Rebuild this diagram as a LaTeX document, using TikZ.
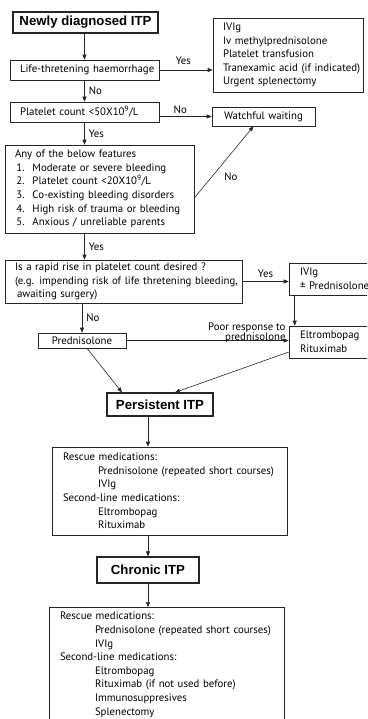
\documentclass[tikz,border=0pt]{standalone}
\usepackage{fontspec}
\setmainfont{PT Sans}
\newfontfamily\titlefont{Liberation Sans}
\usetikzlibrary{arrows.meta,calc}
\tikzset{
  box/.style={draw=black!85, line width=0.6pt, inner ysep=0pt, align=left, anchor=center,
    font=\fontsize{10.8}{13.6}\selectfont},
  tbox/.style={draw=black!85, line width=1.2pt, inner sep=0pt, align=center,
    font=\titlefont\bfseries\fontsize{13.2}{15}\selectfont},
  arr/.style={draw=black!85, line width=0.6pt, -{Triangle[length=5pt,width=4pt]}},
  lbl/.style={font=\fontsize{10.8}{11}\selectfont, inner sep=0pt},
}
\begin{document}
\begin{tikzpicture}[x=1pt,y=-1pt]
\useasboundingbox (0,0) rectangle (367,719);
\clip (0,0) rectangle (367,719);
% title boxes
\node[tbox, minimum width=145pt, minimum height=21pt] (t1) at (85.5,22.5) {Newly diagnosed ITP};
\node[box, inner xsep=10pt, text width=129pt, minimum height=20pt] (b2) at (84.5,70) {\mbox{Life-thretening haemorrhage}};
\node[box, inner xsep=10pt, text width=130pt, minimum height=74pt] (r1) at (288,55)
  {IVIg\\Iv methylprednisolone\\Platelet transfusion\\\mbox{Tranexamic acid (if indicated)}\\Urgent splenectomy};
\node[box, inner xsep=10pt, text width=129pt, minimum height=20pt] (b3) at (84.5,112) {Platelet count <50X10\textsuperscript{9}/L};
\node[box, inner xsep=0pt, text width=103pt, align=center, minimum height=19pt] (w) at (263.5,116.5) {Watchful waiting};
\node[box, inner xsep=10pt, text width=169pt, minimum height=88pt] (b4) at (99.5,189)
  {Any of the below features\\
   \hspace*{1.5pt}\makebox[16pt][l]{1.}\mbox{Moderate or severe bleeding}\\
   \hspace*{1.5pt}\makebox[16pt][l]{2.}\mbox{Platelet count <20X10\textsuperscript{9}/L}\\
   \hspace*{1.5pt}\makebox[16pt][l]{3.}\mbox{Co-existing bleeding disorders}\\
   \hspace*{1.5pt}\makebox[16pt][l]{4.}\mbox{High risk of trauma or bleeding}\\
   \hspace*{1.5pt}\makebox[16pt][l]{5.}\mbox{Anxious / unreliable parents}};
\node[box, inner xsep=10pt, text width=217pt, minimum height=43pt] (b5) at (123.5,281.5)
  {\mbox{Is a rapid rise in platelet count desired ?}\\\mbox{(e.g. impending risk of life thretening bleeding,}\\\hspace*{2pt}awaiting surgery)};
\node[box, inner xsep=11pt, text width=90pt, minimum height=32pt] (iv) at (345,279)
  {IVIg\\\mbox{± Prednisolone}};
\node[box, inner xsep=11pt, text width=90pt, minimum height=32pt] (el) at (345,342)
  {Eltrombopag\\Rituximab};
\node[box, inner xsep=0pt, text width=88pt, align=center, minimum height=15pt] (pr) at (82,340.5) {Prednisolone};
\node[tbox, minimum width=106pt, minimum height=23pt] (pe) at (160,404.5) {Persistent ITP};
\node[box, inner xsep=11pt, text width=213pt, minimum height=88pt] (b7) at (169.5,491)
  {Rescue medications:\\
   \hspace*{35pt}\mbox{Prednisolone (repeated short courses)}\\
   \hspace*{35pt}IVIg\\
   Second-line medications:\\
   \hspace*{35pt}Eltrombopag\\
   \hspace*{35pt}Rituximab};
\node[tbox, minimum width=102pt, minimum height=26pt] (ch) at (148,570) {Chronic ITP};
\node[box, inner xsep=11pt, inner ysep=5pt, text width=213pt, anchor=north] (b8) at (166.5,607)
  {Rescue medications:\\
   \hspace*{35pt}\mbox{Prednisolone (repeated short courses)}\\
   \hspace*{35pt}IVIg\\
   Second-line medications:\\
   \hspace*{35pt}Eltrombopag\\
   \hspace*{35pt}\mbox{Rituximab (if not used before)}\\
   \hspace*{35pt}Immunosuppresives\\
   \hspace*{35pt}Splenectomy\\[8pt]};
% connectors
\draw[arr] (t1.south -| b2.north) -- (b2.north);
\draw[arr] (b2.east) -- (b2.east -| r1.west) node[lbl, pos=0.45, above=5pt] {Yes};
\draw[arr] (b2.south) -- (b3.north) node[lbl, midway, right=4pt] {No};
\draw[arr] (b3.east |- w.west) -- (w.west) node[lbl, pos=0.4, above=3pt] {No};
\draw[arr] (b3.south) -- (b3.south |- b4.north) node[lbl, midway, right=4pt] {Yes};
\draw[arr] ([yshift=-9pt]b4.east) -- ([xshift=-10pt]w.south) node[lbl, pos=0.3, right=12pt] {No};
\draw[arr] (b4.south -| b3.south) -- (b5.north -| b3.south) node[lbl, midway, right=4pt] {Yes};
\draw[arr] (b5.east) -- (b5.east -| iv.west) node[lbl, midway, above=4pt] {Yes};
\draw[arr] ([xshift=6pt]iv.south west) -- ([xshift=6pt]el.north west);
\draw[arr] (b5.south -| pr.north) -- (pr.north) node[lbl, midway, right=4pt] {No};
\draw[arr] (pr.east) -- (pr.east -| el.west);
\node[lbl, align=right, anchor=south east, font=\fontsize{10.8}{10.5}\selectfont] (poor) at ([xshift=-3pt,yshift=-1pt]el.west) {Poor response to\\prednisolone};
\draw[arr] ([xshift=5pt]pr.south) -- ([xshift=-38pt]pe.north);
\draw[arr] ([yshift=-10pt]el.west) -- ([xshift=15pt]pe.north);
\draw[arr] (pe.south -| ch.north) -- (b7.north -| ch.north);
\draw[arr] (b7.south -| ch.north) -- (ch.north);
\draw[arr] (ch.south) -- (ch.south |- b8.north);
\end{tikzpicture}
\end{document}
